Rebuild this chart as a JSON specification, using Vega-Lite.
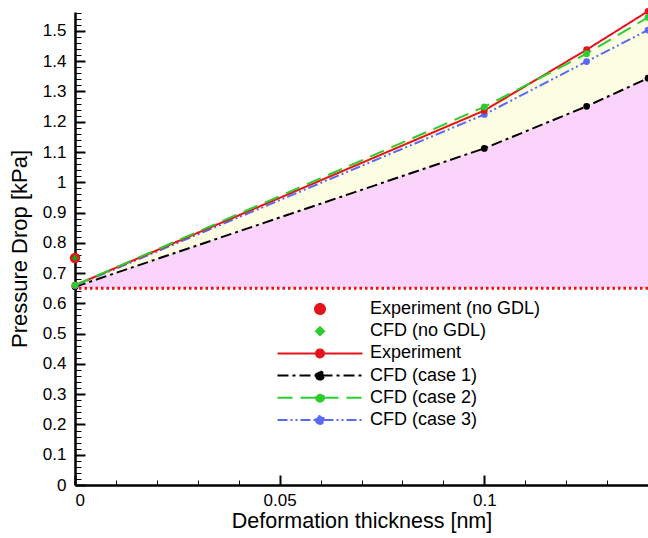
{
  "$schema": "https://vega.github.io/schema/vega-lite/v6.json",
  "width": 573,
  "height": 473,
  "autosize": {"type": "none"},
  "padding": {"left": 75, "top": 12, "right": 0, "bottom": 53},
  "background": "white",
  "config": {
    "view": {"stroke": null},
    "font": "Liberation Sans",
    "axis": {"grid": false, "labelColor": "black", "titleColor": "black", "tickColor": "black", "domainColor": "black", "labelFont": "Liberation Sans", "titleFont": "Liberation Sans", "titleFontWeight": "normal"}
  },
  "datasets": {
    "curves": [
      {"x": 0, "series": "CFD (case 1)", "y": 0.655},
      {"x": 0.1, "series": "CFD (case 1)", "y": 1.112},
      {"x": 0.125, "series": "CFD (case 1)", "y": 1.251},
      {"x": 0.14, "series": "CFD (case 1)", "y": 1.344},
      {"x": 0, "series": "CFD (case 3)", "y": 0.658},
      {"x": 0.1, "series": "CFD (case 3)", "y": 1.224},
      {"x": 0.125, "series": "CFD (case 3)", "y": 1.399},
      {"x": 0.14, "series": "CFD (case 3)", "y": 1.503},
      {"x": 0, "series": "Experiment", "y": 0.66},
      {"x": 0.1, "series": "Experiment", "y": 1.237},
      {"x": 0.125, "series": "Experiment", "y": 1.438},
      {"x": 0.14, "series": "Experiment", "y": 1.565},
      {"x": 0, "series": "CFD (case 2)", "y": 0.66},
      {"x": 0.1, "series": "CFD (case 2)", "y": 1.249},
      {"x": 0.125, "series": "CFD (case 2)", "y": 1.425},
      {"x": 0.14, "series": "CFD (case 2)", "y": 1.545}
    ],
    "nogdl": [
      {"x": 0, "series": "Experiment (no GDL)", "y": 0.75},
      {"x": 0, "series": "CFD (no GDL)", "y": 0.75}
    ],
    "baseline": [{"y": 0.65}]
  },
  "resolve": {"axis": {"x": "independent", "y": "independent"}},
  "layer": [
    {
      "data": {"name": "curves"},
      "transform": [{"filter": "datum.series === 'CFD (case 2)'"}],
      "mark": {"type": "area", "color": "#fdfde3", "opacity": 1},
      "encoding": {
        "x": {"field": "x", "type": "quantitative", "scale": {"domain": [0, 0.14], "nice": false},
          "axis": {"orient": "bottom", "values": [0, 0.05, 0.1], "format": "~g", "tickSize": -10, "tickWidth": 2, "domainWidth": 2.5, "labelFontSize": 17, "labelPadding": 17, "title": "Deformation thickness [nm]", "titleFontSize": 21.5, "titlePadding": 2}},
        "y": {"field": "y", "type": "quantitative", "scale": {"domain": [0, 1.5626], "nice": false},
          "axis": {"orient": "left", "values": [0, 0.1, 0.2, 0.3, 0.4, 0.5, 0.6, 0.7, 0.8, 0.9, 1, 1.1, 1.2, 1.3, 1.4, 1.5], "format": "~g", "tickSize": -10, "tickWidth": 2, "domainWidth": 2.5, "labelFontSize": 17, "labelPadding": 19, "title": "Pressure Drop [kPa]", "titleFontSize": 22, "titlePadding": 11}},
        "y2": {"datum": 0.65}
      }
    },
    {
      "data": {"name": "curves"},
      "transform": [{"filter": "datum.series === 'CFD (case 1)'"}],
      "mark": {"type": "area", "color": "#fad4fa", "opacity": 1},
      "encoding": {
        "x": {"field": "x", "type": "quantitative",
          "axis": {"orient": "bottom", "values": [0.01, 0.02, 0.03, 0.04, 0.06, 0.07, 0.08, 0.09, 0.11, 0.12, 0.13, 0.14], "labels": false, "domain": false, "tickSize": -5, "tickWidth": 1, "title": null}},
        "y": {"field": "y", "type": "quantitative",
          "axis": {"orient": "left", "values": [0.02, 0.04, 0.06, 0.08, 0.12, 0.14, 0.16, 0.18, 0.22, 0.24, 0.26, 0.28, 0.32, 0.34, 0.36, 0.38, 0.42, 0.44, 0.46, 0.48, 0.52, 0.54, 0.56, 0.58, 0.62, 0.64, 0.66, 0.68, 0.72, 0.74, 0.76, 0.78, 0.82, 0.84, 0.86, 0.88, 0.92, 0.94, 0.96, 0.98, 1.02, 1.04, 1.06, 1.08, 1.12, 1.14, 1.16, 1.18, 1.22, 1.24, 1.26, 1.28, 1.32, 1.34, 1.36, 1.38, 1.42, 1.44, 1.46, 1.48, 1.52, 1.54, 1.56], "labels": false, "domain": false, "tickSize": -6, "tickWidth": 1, "title": null}},
        "y2": {"datum": 0.65}
      }
    },
    {
      "data": {"name": "baseline"},
      "mark": {"type": "rule", "color": "#ee1111", "strokeWidth": 3, "strokeDash": [2.5, 3]},
      "encoding": {"y": {"field": "y", "type": "quantitative", "axis": null}}
    },
    {
      "data": {"name": "curves"},
      "mark": {"type": "line", "strokeWidth": 2},
      "encoding": {
        "x": {"field": "x", "type": "quantitative", "axis": null},
        "y": {"field": "y", "type": "quantitative", "axis": null},
        "color": {"field": "series", "type": "nominal",
          "scale": {"domain": ["Experiment (no GDL)", "CFD (no GDL)", "Experiment", "CFD (case 1)", "CFD (case 2)", "CFD (case 3)"],
                    "range": ["#e4141b", "#2ecc2e", "#e4141b", "#000000", "#2ecc2e", "#5a6af2"]},
          "legend": {"orient": "none", "legendX": 236, "legendY": 288, "title": null, "padding": 0,
            "labelFontSize": 18, "labelColor": "black", "labelLimit": 300, "labelOffset": 41,
            "symbolStrokeWidth": 2, "symbolSize": 100, "symbolOpacity": 1, "rowPadding": 4.2,
            "encode": {"symbols": {"update": {"fill": {"value": {"expr": "scale('color', datum.value)"}}}}}}},
        "strokeDash": {"field": "series", "type": "nominal",
          "scale": {"domain": ["Experiment (no GDL)", "CFD (no GDL)", "Experiment", "CFD (case 1)", "CFD (case 2)", "CFD (case 3)"],
                    "range": [[1, 0], [1, 0], [1, 0], [11, 4, 3, 4], [15, 8], [10, 3, 2, 3, 2, 3]]}},
        "order": {"field": "x", "type": "quantitative"}
      }
    },
    {
      "data": {"name": "curves"},
      "mark": {"type": "circle", "size": 45, "opacity": 1},
      "encoding": {
        "x": {"field": "x", "type": "quantitative", "axis": null},
        "y": {"field": "y", "type": "quantitative", "axis": null},
        "color": {"field": "series", "type": "nominal"}
      }
    },
    {
      "data": {"name": "nogdl"},
      "transform": [{"filter": "datum.series === 'Experiment (no GDL)'"}],
      "mark": {"type": "circle", "size": 110, "opacity": 1, "color": "#e4141b"},
      "encoding": {
        "x": {"field": "x", "type": "quantitative", "axis": null},
        "y": {"field": "y", "type": "quantitative", "axis": null}
      }
    },
    {
      "data": {"name": "nogdl"},
      "transform": [{"filter": "datum.series === 'CFD (no GDL)'"}],
      "mark": {"type": "point", "shape": "diamond", "filled": true, "size": 45, "opacity": 1, "color": "#1a9e1a"},
      "encoding": {
        "x": {"field": "x", "type": "quantitative", "axis": null},
        "y": {"field": "y", "type": "quantitative", "axis": null}
      }
    },
    {
      "data": {"name": "nogdl"},
      "transform": [{"filter": "false"}],
      "mark": {"type": "point"},
      "encoding": {
        "x": {"field": "x", "type": "quantitative", "axis": null},
        "y": {"field": "y", "type": "quantitative", "axis": null},
        "shape": {"field": "series", "type": "nominal",
          "scale": {"domain": ["Experiment (no GDL)", "CFD (no GDL)", "Experiment", "CFD (case 1)", "CFD (case 2)", "CFD (case 3)"],
                    "range": ["circle", "M0,-0.8L0.8,0L0,0.8L-0.8,0Z",
                              "M-8.5,0H8.5M-0.8,0A0.8,0.8,0,1,0,0.8,0A0.8,0.8,0,1,0,-0.8,0Z",
                              "M-8.5,0H8.5M-0.8,0A0.8,0.8,0,1,0,0.8,0A0.8,0.8,0,1,0,-0.8,0Z",
                              "M-8.5,0H8.5M-0.8,0A0.8,0.8,0,1,0,0.8,0A0.8,0.8,0,1,0,-0.8,0Z",
                              "M-8.5,0H8.5M-0.8,0A0.8,0.8,0,1,0,0.8,0A0.8,0.8,0,1,0,-0.8,0Z"]}}
      }
    }
  ]
}
